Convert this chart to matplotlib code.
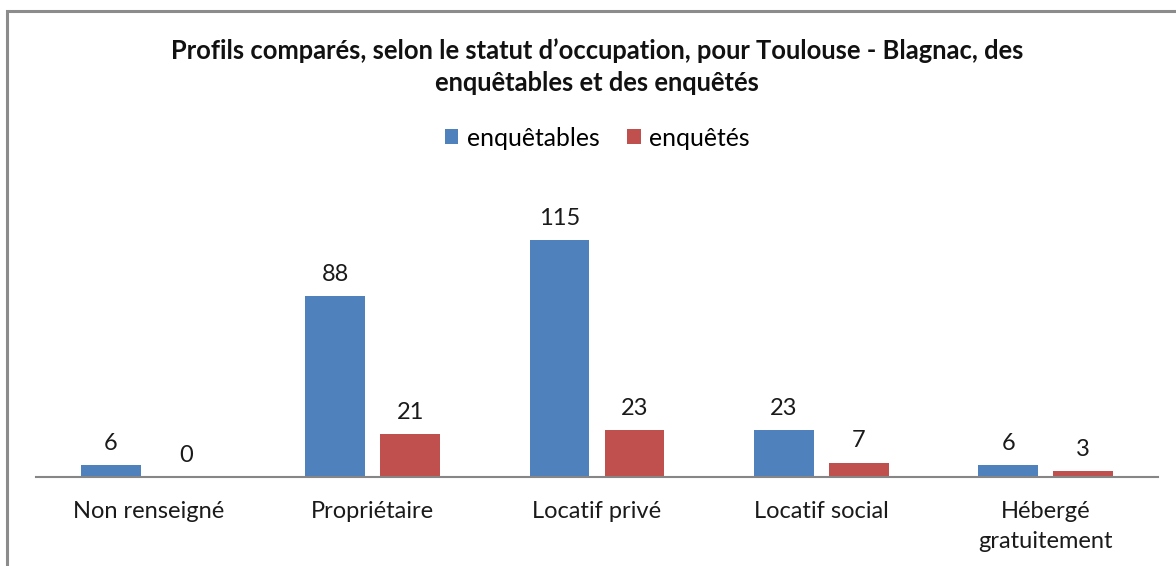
import matplotlib.pyplot as plt
import numpy as np
from matplotlib.patches import Rectangle

plt.rcParams['font.family'] = ['Lato', 'DejaVu Sans']

categories = ['Non renseigné', 'Propriétaire', 'Locatif privé',
              'Locatif social', 'Hébergé\ngratuitement']
enquetables = [6, 88, 115, 23, 6]
enquetes = [0, 21, 23, 7, 3]
series_names = ['enquêtables', 'enquêtés']

BLUE = '#4F81BD'
RED = '#C0504D'


def main():
    fig = plt.figure(figsize=(11.76, 5.66), dpi=100)
    ax = fig.add_axes([0.0306, 0.1572, 0.9541, 0.5095])

    x = np.arange(len(categories))
    width = 0.267
    offset = 0.167

    bars1 = ax.bar(x - offset, enquetables, width, color=BLUE, label=series_names[0])
    bars2 = ax.bar(x + offset, enquetes, width, color=RED, label=series_names[1])

    for bars, vals in ((bars1, enquetables), (bars2, enquetes)):
        for b, v in zip(bars, vals):
            ax.annotate(f'{v}', xy=(b.get_x() + b.get_width() / 2, v),
                        xytext=(0, 8), textcoords='offset points',
                        ha='center', va='bottom', fontsize=17, color='#1a1a1a')

    ax.set_xlim(-0.5, len(categories) - 0.5)
    ax.set_ylim(0, 140)
    ax.set_yticks([])
    ax.set_xticks(x)
    ax.set_xticklabels(categories, fontsize=17, color='#1a1a1a', linespacing=1.55)
    ax.tick_params(axis='x', length=0, pad=17)

    for side in ('left', 'right', 'top'):
        ax.spines[side].set_visible(False)
    ax.spines['bottom'].set_color('#868686')
    ax.spines['bottom'].set_linewidth(1.5)

    fig.text(0.508, 0.883,
             'Profils comparés, selon le statut d\u2019occupation, pour Toulouse - Blagnac, des\n'
             'enquêtables et des enquêtés',
             ha='center', va='center', fontsize=18.4, fontweight='bold',
             linespacing=1.4, color='#111111')

    fig.legend(loc='center', bbox_to_anchor=(0.508, 0.756), ncol=2, frameon=False,
               fontsize=17.8, handlelength=0.55, handleheight=0.55,
               handletextpad=0.35, columnspacing=1.1)

    # chart frame (runs off the right and bottom edges)
    fig.patches.append(Rectangle((0.006, -0.05), 1.1, 0.9806 + 0.05,
                                 transform=fig.transFigure, fill=False,
                                 edgecolor='#8c8c8c', linewidth=2.2))

    fig.savefig('out.png', dpi=100)


if __name__ == "__main__":
    main()
